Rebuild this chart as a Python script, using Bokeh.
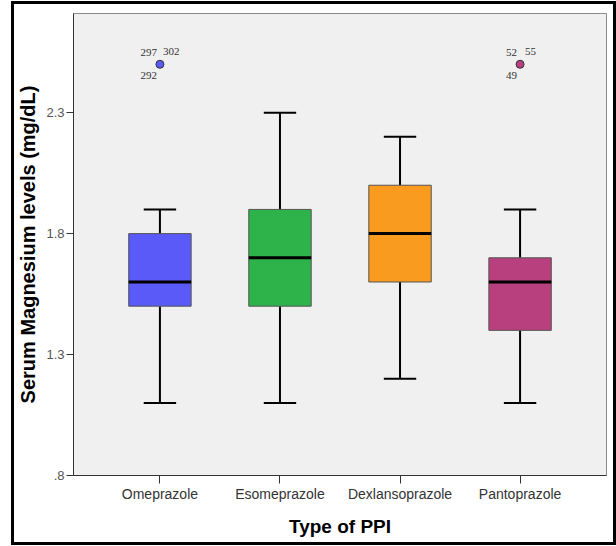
from bokeh.plotting import figure
from bokeh.models import FactorRange, Range1d, FixedTicker, ColumnDataSource
from bokeh.transform import dodge
from bokeh.embed import file_html
from bokeh.resources import INLINE

categories = ["Omeprazole", "Esomeprazole", "Dexlansoprazole", "Pantoprazole"]
lower_whisker = [1.1, 1.1, 1.2, 1.1]
q1 = [1.5, 1.5, 1.6, 1.4]
median = [1.6, 1.7, 1.8, 1.6]
q3 = [1.8, 1.9, 2.0, 1.7]
upper_whisker = [1.9, 2.3, 2.2, 1.9]
box_colors = ["#5a5af8", "#2db34a", "#f89b1e", "#b9407f"]

outlier_cats = ["Omeprazole", "Pantoprazole"]
outlier_vals = [2.5, 2.5]
outlier_colors = ["#5a5af8", "#b9407f"]

label_cats = ["Omeprazole", "Omeprazole", "Omeprazole", "Pantoprazole", "Pantoprazole", "Pantoprazole"]
label_vals = [2.5, 2.5, 2.5, 2.5, 2.5, 2.5]
label_texts = ["297", "302", "292", "52", "55", "49"]

y_ticks = [0.8, 1.3, 1.8, 2.3]
y_tick_labels = [".8", "1.3", "1.8", "2.3"]

# label layout (style only)
label_align = ["right", "left", "right", "right", "left", "right"]
label_dx = [-3, 3, -3, -3, 5, -3]
label_dy = [-12, -13, 11, -12, -13, 11]

FONT = "Liberation Sans"

p = figure(
    x_range=FactorRange(factors=categories, range_padding=0.22, range_padding_units="absolute"),
    y_range=Range1d(0.8, 2.71),
    width=599, height=538,
    output_backend="svg", toolbar_location=None,
    min_border_left=58, min_border_right=7, min_border_top=9, min_border_bottom=67,
)
p.styles = {"margin-left": "14px", "margin-top": "4px",
            "outline": "3px solid black", "outline-offset": "0px"}
p.background_fill_color = "#f0f0f0"
p.border_fill_color = "white"
p.outline_line_color = "#8a8a8a"
p.outline_line_width = 1
p.xgrid.visible = False
p.ygrid.visible = False

src = ColumnDataSource(dict(cat=categories, lo=lower_whisker, q1=q1, med=median,
                            q3=q3, hi=upper_whisker, color=box_colors))

# whisker stems
p.segment(x0="cat", y0="lo", x1="cat", y1="q1", source=src, line_color="black", line_width=2)
p.segment(x0="cat", y0="q3", x1="cat", y1="hi", source=src, line_color="black", line_width=2)
# caps
p.segment(x0=dodge("cat", -0.135, range=p.x_range), y0="lo",
          x1=dodge("cat", 0.135, range=p.x_range), y1="lo", source=src,
          line_color="black", line_width=2)
p.segment(x0=dodge("cat", -0.135, range=p.x_range), y0="hi",
          x1=dodge("cat", 0.135, range=p.x_range), y1="hi", source=src,
          line_color="black", line_width=2)
# boxes
p.vbar(x="cat", bottom="q1", top="q3", width=0.52, source=src,
       fill_color="color", line_color="#555555", line_width=1)
# medians
p.segment(x0=dodge("cat", -0.26, range=p.x_range), y0="med",
          x1=dodge("cat", 0.26, range=p.x_range), y1="med", source=src,
          line_color="black", line_width=3)

# outliers
osrc = ColumnDataSource(dict(cat=outlier_cats, val=outlier_vals, color=outlier_colors))
p.scatter(x="cat", y="val", source=osrc, size=8, fill_color="color",
          line_color="#333333", line_width=1)

lsrc = ColumnDataSource(dict(cat=label_cats, val=label_vals, text=label_texts,
                             align=label_align, dx=label_dx, dy=label_dy))
p.text(x="cat", y="val", text="text", source=lsrc, text_align="align",
       text_baseline="middle", x_offset="dx", y_offset="dy",
       text_font_size="11px", text_color="#333333", text_font=FONT)

# axes
p.yaxis.ticker = FixedTicker(ticks=y_ticks)
p.yaxis.major_label_overrides = {t: s for t, s in zip(y_ticks, y_tick_labels)}
p.yaxis.axis_label = "Serum Magnesium levels (mg/dL)"
p.xaxis.axis_label = "Type of PPI"

for ax in (p.xaxis, p.yaxis):
    ax.axis_line_color = "#333333"
    ax.major_tick_line_color = "#333333"
    ax.minor_tick_line_color = None
    ax.major_tick_in = 0
    ax.axis_label_text_font = FONT
    ax.axis_label_text_font_style = "bold"
    ax.axis_label_text_color = "black"
    ax.major_label_text_font = FONT

p.yaxis.major_tick_out = 7
p.yaxis.major_label_standoff = 2
p.yaxis.major_label_text_font_size = "13px"
p.yaxis.major_label_text_color = "#555555"
p.yaxis.axis_label_text_font_size = "20px"
p.yaxis.axis_label_standoff = 4

p.xaxis.major_tick_out = 8
p.xaxis.major_label_standoff = 2
p.xaxis.major_label_text_font_size = "14px"
p.xaxis.major_label_text_color = "#333333"
p.xaxis.axis_label_text_font_size = "19px"
p.xaxis.axis_label_standoff = 11

open("out.html", "w").write(file_html(p, INLINE))
